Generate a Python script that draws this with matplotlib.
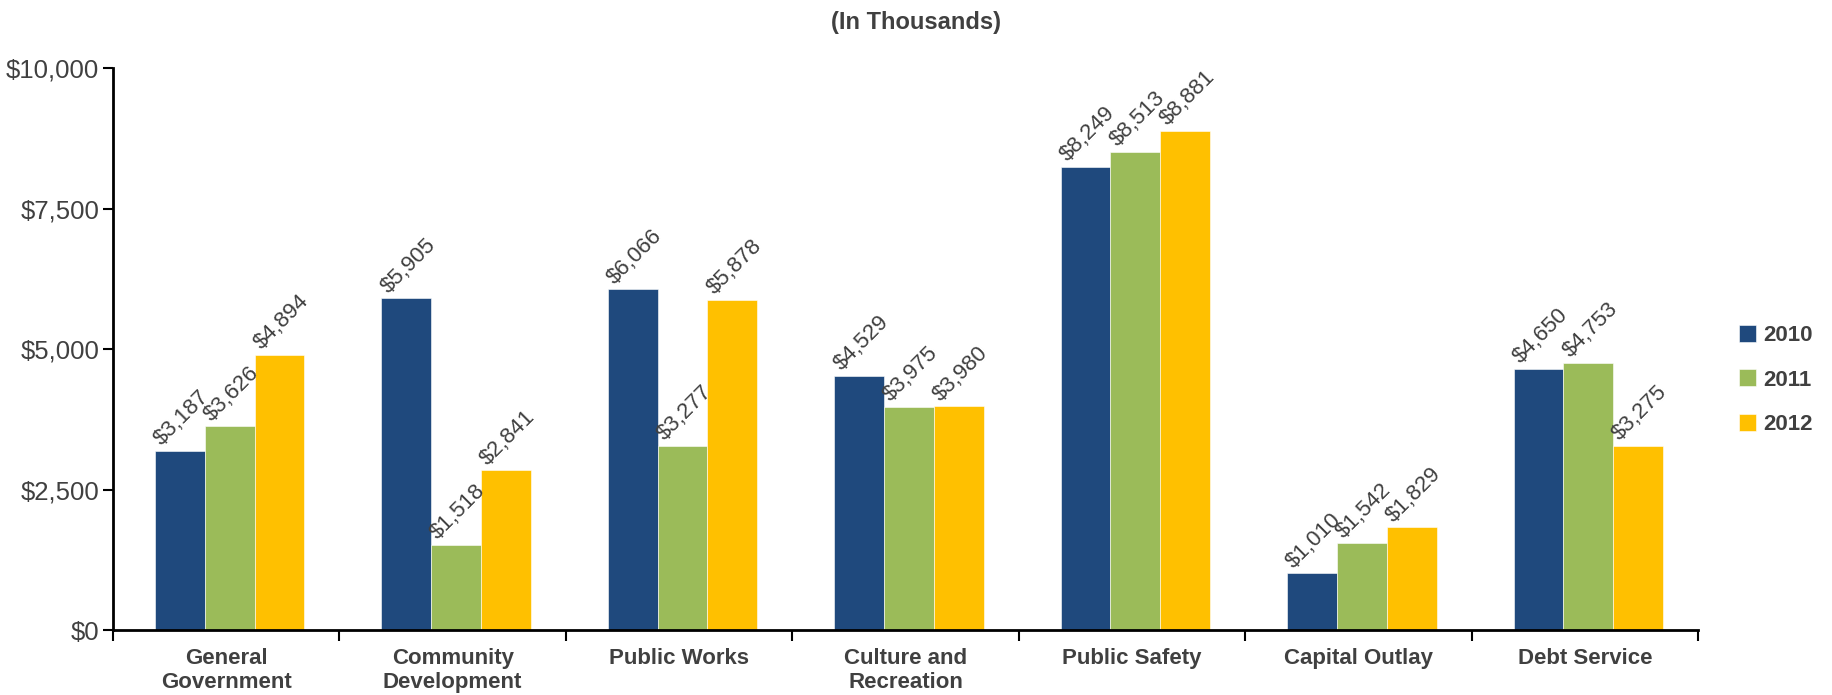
import matplotlib.pyplot as plt
import numpy as np

plt.rcParams['font.family'] = ['Liberation Sans', 'DejaVu Sans']

categories = ['General\nGovernment', 'Community\nDevelopment', 'Public Works',
              'Culture and\nRecreation', 'Public Safety', 'Capital Outlay', 'Debt Service']
years = ['2010', '2011', '2012']
v2010 = [3187, 5905, 6066, 4529, 8249, 1010, 4650]
v2011 = [3626, 1518, 3277, 3975, 8513, 1542, 4753]
v2012 = [4894, 2841, 5878, 3980, 8881, 1829, 3275]
colors = ['#1F497D', '#9BBB59', '#FFC000']

txt = '#404040'
fig = plt.figure(figsize=(18.32, 6.95), dpi=100)
ax = fig.add_axes([0.0617, 0.0935, 0.8652, 0.8085])

x = np.arange(len(categories))
w = 0.22
for i, (vals, col, yr) in enumerate(zip([v2010, v2011, v2012], colors, years)):
    pos = x + (i - 1) * w + 0.015
    ax.bar(pos, vals, w, color=col, label=yr, edgecolor='white', linewidth=0.4)
    for px, v in zip(pos, vals):
        ax.text(px + 0.01, v + 20, '${:,}'.format(v), rotation=45, ha='center', va='bottom',
                fontsize=16, color=txt)

ax.set_xlim(-0.5, len(categories) - 0.5)
ax.set_ylim(0, 10000)
ax.set_yticks([0, 2500, 5000, 7500, 10000])
ax.set_yticklabels(['$0', '$2,500', '$5,000', '$7,500', '$10,000'], fontsize=18.5, color=txt)
ax.tick_params(axis='y', length=7, width=1.5, pad=3)

ax.set_xticks(np.arange(len(categories) + 1) - 0.5)
ax.set_xticklabels([])
ax.tick_params(axis='x', which='major', length=8, width=1.5, direction='out')
ax.set_xticks(x, minor=True)
ax.set_xticklabels(categories, minor=True, fontsize=16, fontweight='bold', color=txt,
                   linespacing=1.2)
ax.tick_params(axis='x', which='minor', length=0, pad=13)

for s in ['top', 'right']:
    ax.spines[s].set_visible(False)
ax.spines['left'].set_linewidth(2)
ax.spines['bottom'].set_linewidth(2)

fig.text(0.5, 0.968, '(In Thousands)', ha='center', va='center', fontsize=17,
         fontweight='bold', color=txt)

leg = ax.legend(loc='center left', bbox_to_anchor=(1.013, 0.445), frameon=False,
                prop={'size': 16, 'weight': 'bold'}, handlelength=0.8, handleheight=0.8,
                handletextpad=0.3, labelspacing=1.05)
for t in leg.get_texts():
    t.set_color(txt)

fig.savefig('out.png', dpi=100)
